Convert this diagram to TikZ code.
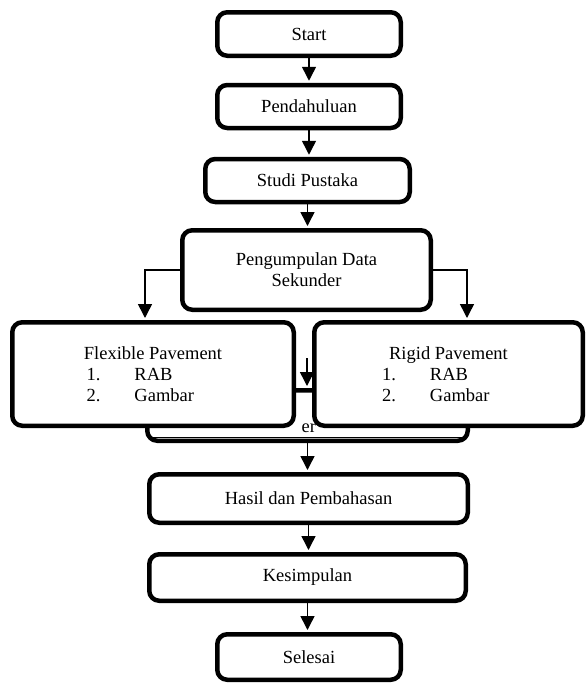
\documentclass[tikz,border=0pt]{standalone}
\usepackage{fontspec}
\setmainfont{Liberation Serif}
\usetikzlibrary{arrows.meta}

\tikzset{
	tahap/.style={draw, line width=4.5pt, rounded corners=10pt, fill=white, inner sep=0pt, align=center},
	panah/.style={-{Triangle[width=14pt,length=14pt]}, line width=1.5pt, shorten >=2pt},
}
\newcommand{\butir}[2]{\makebox[133pt][l]{\makebox[48pt][l]{#1}#2}}

\begin{document}
\begin{tikzpicture}[x=1pt,y=-1pt,font=\fontsize{18.5}{21}\selectfont]
\useasboundingbox (0,0) rectangle (587,683);

\node[tahap, minimum width=183.5pt, minimum height=43.5pt] (start) at (309,34) {Start};
\node[tahap, minimum width=183.5pt, minimum height=43pt] (pendahuluan) at (309,106.5) {Pendahuluan};
\node[tahap, minimum width=204.5pt, minimum height=43pt] (studi) at (307.5,180.5) {Studi Pustaka};
\node[tahap, minimum width=248.5pt, minimum height=79.5pt] (kumpul) at (306.5,270) {Pengumpulan Data\\Sekunder};

\node[tahap, minimum width=320.5pt, minimum height=50.5pt] (lanjut) at (307.5,415.5) {};
\draw[line width=1pt] ([xshift=3pt,yshift=5.5pt]lanjut.south west) -- ([xshift=-3pt,yshift=5.5pt]lanjut.south east);
\coordinate (masuk) at (307,358);
\draw[panah] (masuk) -- (masuk |- lanjut.north);
\node[anchor=base west, inner sep=0pt] (potongan) at (301.5,432) {er};

\node[tahap, minimum width=281.5pt, minimum height=103.5pt] (lentur) at (153,374) {Flexible Pavement\\\butir{1.}{RAB}\\\butir{2.}{Gambar}};
\node[tahap, minimum width=268.5pt, minimum height=103.5pt] (kaku) at (448.5,374) {Rigid Pavement\\\butir{1.}{RAB}\\\butir{2.}{Gambar}};

\node[tahap, minimum width=318.5pt, minimum height=48.5pt] (hasil) at (308.5,498.5) {Hasil dan Pembahasan};
\node[tahap, minimum width=316.5pt, minimum height=46.5pt] (simpulan) at (307.5,577.5) {Kesimpulan};
\node[tahap, minimum width=183.5pt, minimum height=45.5pt] (selesai) at (309,657) {Selesai};

\foreach \a/\b in {start/pendahuluan,pendahuluan/studi,studi/kumpul,lanjut/hasil,hasil/simpulan,simpulan/selesai} {
	\draw[panah] (\a.south) -- (\a.south |- \b.north);
}
\draw[panah] (kumpul.west) -| ([xshift=-8pt]lentur.north);
\draw[panah] (kumpul.east) -| ([xshift=18.5pt]kaku.north);

\end{tikzpicture}
\end{document}
